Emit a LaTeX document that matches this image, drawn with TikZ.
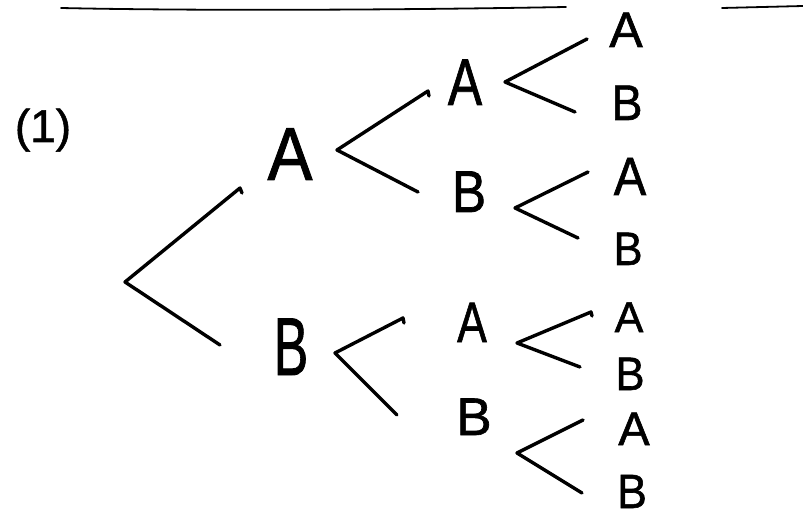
\documentclass[tikz,border=0pt]{standalone}
\usepackage{fontspec}
\usepackage{graphicx}
\setmainfont[FakeBold=1.2]{Liberation Sans}
\newcommand\hw[3]{\scalebox{#1}[1]{\fontsize{#2}{#2}\selectfont #3}}
\begin{document}
\begin{tikzpicture}[x=1pt,y=-1pt,
  br/.style={line width=3.4pt, line cap=round, line join=round},
  lt/.style={inner sep=0pt, anchor=base},
  rulestroke/.style={line width=1.8pt, line cap=round}]
\useasboundingbox (0,0) rectangle (803,521);
\fill[white] (0,0) rectangle (803,521);

% top rule
\coordinate (r1) at (61,8);
\coordinate (r2) at (566,7);
\coordinate (r3) at (722,8);
\coordinate (r4) at (803,6);
\draw[rulestroke] (r1) .. controls (200,11) and (400,10) .. (r2);
\draw[rulestroke] (r3) -- (r4);

% label
\node[lt] (lab) at (43,142) {\hw{1}{46}{(1)}};

% letters
\node[lt] (A) at (290,180) {\hw{0.9}{75}{A}};
\node[lt] (B) at (291,375) {\hw{0.63}{82}{B}};
\node[lt] (AA) at (465,105) {\hw{0.78}{66}{A}};
\node[lt] (AB) at (469,212) {\hw{0.87}{59}{B}};
\node[lt] (BA) at (472,342) {\hw{0.78}{57}{A}};
\node[lt] (BB) at (474,435) {\hw{1}{53}{B}};
\node[lt] (AAA) at (626,47) {\hw{1}{50}{A}};
\node[lt] (AAB) at (627,120) {\hw{0.93}{50}{B}};
\node[lt] (ABA) at (630,195) {\hw{0.9}{54}{A}};
\node[lt] (ABB) at (628,265) {\hw{0.93}{47}{B}};
\node[lt] (BAA) at (629,332) {\hw{1}{43}{A}};
\node[lt] (BAB) at (630,390) {\hw{0.93}{47}{B}};
\node[lt] (BBA) at (634,445) {\hw{1}{47}{A}};
\node[lt] (BBB) at (632,508) {\hw{0.93}{48}{B}};

% branch vertices and ends
\coordinate (v0) at (125,282);
\coordinate (v0u) at (240,188);
\coordinate (v0d) at (220,345);
\coordinate (vA) at (337,150);
\coordinate (vAu) at (428,91);
\coordinate (vAd) at (418,192);
\coordinate (vB) at (335,353);
\coordinate (vBu) at (403,318);
\coordinate (vBd) at (397,415);
\coordinate (vAA) at (505,82);
\coordinate (vAAu) at (587,39);
\coordinate (vAAd) at (575,112);
\coordinate (vAB) at (515,208);
\coordinate (vABu) at (588,172);
\coordinate (vABd) at (578,238);
\coordinate (vBA) at (517,343);
\coordinate (vBAu) at (591,312);
\coordinate (vBAd) at (580,367);
\coordinate (vBB) at (517,453);
\coordinate (vBBu) at (583,420);
\coordinate (vBBd) at (582,493);

\draw[br] (v0u) ++(2,5) -- (v0u) -- (v0) -- (v0d);
\draw[br] (vAu) ++(1,5) -- (vAu) -- (vA) -- (vAd);
\draw[br] (vBu) ++(1,5) -- (vBu) -- (vB) -- (vBd);
\draw[br] (vAAu) -- (vAA) -- (vAAd);
\draw[br] (vABu) -- (vAB) -- (vABd);
\draw[br] (vBAu) ++(1,4) -- (vBAu) -- (vBA) -- (vBAd);
\draw[br] (vBBu) -- (vBB) -- (vBBd);
\end{tikzpicture}
\end{document}
